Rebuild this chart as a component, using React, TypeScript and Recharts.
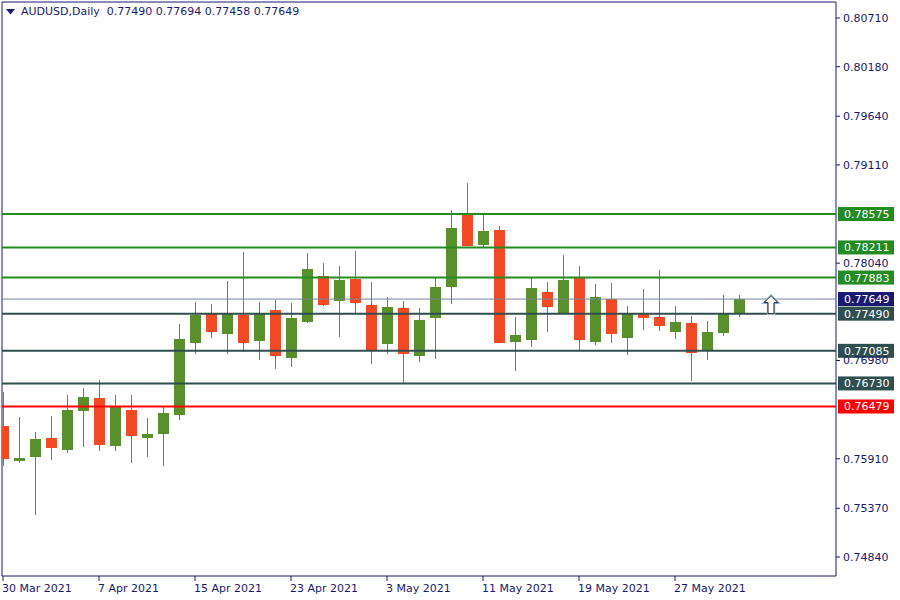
import React from "react";
import {
  ComposedChart,
  Bar,
  XAxis,
  YAxis,
  ReferenceLine,
  ReferenceArea,
  ReferenceDot,
} from "recharts";

// trading days shown on the chart (all 2021)
const dates = [
  "30 Mar", "31 Mar", "1 Apr", "2 Apr", "5 Apr", "6 Apr", "7 Apr", "8 Apr", "9 Apr", "12 Apr",
  "13 Apr", "14 Apr", "15 Apr", "16 Apr", "19 Apr", "20 Apr", "21 Apr", "22 Apr", "23 Apr", "26 Apr",
  "27 Apr", "28 Apr", "29 Apr", "30 Apr", "3 May", "4 May", "5 May", "6 May", "7 May", "10 May",
  "11 May", "12 May", "13 May", "14 May", "17 May", "18 May", "19 May", "20 May", "21 May", "24 May",
  "25 May", "26 May", "27 May", "28 May", "31 May", "1 Jun", "2 Jun",
];

const opens = [
  0.76267, 0.75889, 0.75933, 0.76136, 0.76009, 0.76434, 0.76572, 0.76052, 0.76441, 0.76139,
  0.76183, 0.7639, 0.77174, 0.7749, 0.77272, 0.77476, 0.77196, 0.7753, 0.77011, 0.77403,
  0.779, 0.77631, 0.77868, 0.77585, 0.77163, 0.77552, 0.77032, 0.77446, 0.77784, 0.78579,
  0.78241, 0.78401, 0.77185, 0.77207, 0.77726, 0.77501, 0.77879, 0.77185, 0.7765, 0.77228,
  0.77497, 0.77454, 0.77294, 0.77389, 0.77087, 0.77283, 0.7749,
];
const highs = [
  0.7664, 0.76365, 0.76202, 0.76376, 0.76604, 0.76681, 0.76768, 0.76604, 0.76604, 0.76354,
  0.76485, 0.77378, 0.77617, 0.77595, 0.77846, 0.78162, 0.77617, 0.77639, 0.77606, 0.78151,
  0.78042, 0.78009, 0.78173, 0.77835, 0.77672, 0.77628, 0.77552, 0.77879, 0.78619, 0.78913,
  0.78579, 0.78445, 0.77454, 0.77879, 0.77835, 0.78129, 0.78009, 0.77813, 0.77824, 0.77574,
  0.77759, 0.77966, 0.77574, 0.77465, 0.7741, 0.77694, 0.77694,
];
const lows = [
  0.75835, 0.75867, 0.75301, 0.759, 0.75976, 0.76041, 0.75998, 0.75998, 0.75867, 0.75933,
  0.75835, 0.76336, 0.77054, 0.77228, 0.77054, 0.77076, 0.76989, 0.76891, 0.76913, 0.77392,
  0.77574, 0.77239, 0.7749, 0.76945, 0.77054, 0.76738, 0.76967, 0.77, 0.77599, 0.78227,
  0.78209, 0.77171, 0.76869, 0.7713, 0.77294, 0.77497, 0.77098, 0.77152, 0.77174, 0.77043,
  0.77316, 0.77305, 0.77218, 0.7676, 0.76989, 0.7725, 0.77458,
];
const closes = [
  0.75911, 0.75918, 0.76125, 0.76031, 0.76441, 0.76583, 0.76063, 0.76474, 0.76161, 0.7618,
  0.76408, 0.77214, 0.77479, 0.77294, 0.77497, 0.77174, 0.77497, 0.77032, 0.77443, 0.77977,
  0.77588, 0.77857, 0.7761, 0.77087, 0.77563, 0.77054, 0.77421, 0.77781, 0.78423, 0.7823,
  0.7839, 0.77174, 0.77258, 0.7777, 0.77566, 0.77857, 0.77207, 0.77672, 0.77272, 0.77497,
  0.77446, 0.77359, 0.77399, 0.77065, 0.77291, 0.77487, 0.77649,
];

const levels = [0.78575, 0.78211, 0.77883, 0.7749, 0.77085, 0.7673, 0.76479];
const levelColors = ["#228B22", "#228B22", "#228B22", "#2F4F4F", "#2F4F4F", "#2F4F4F", "#FF0000"];
const bidPrice = 0.77649;
const priceTicks = [0.8071, 0.8018, 0.7964, 0.7911, 0.7804, 0.7698, 0.7591, 0.7537, 0.7484];
const dateTicks = [0, 6, 12, 18, 24, 30, 36, 42];
const arrowSlot = 48;
const arrowPrice = 0.7749;

const X_MIN = -0.0625;
const X_MAX = 52.0625;
const Y_MIN = 0.74633;
const Y_MAX = 0.80884;

const INK = "#191970";
const UP = "#5A8F2E";
const DOWN = "#F24A24";
const FONT = "'DejaVu Sans', sans-serif";

const data = dates.map((d, i) => ({
  i,
  date: d,
  open: opens[i],
  high: highs[i],
  low: lows[i],
  close: closes[i],
}));

const Candle = (props: any) => {
  const { x, y, width, height, payload } = props;
  if (!payload) return null;
  const { open, close, high, low } = payload;
  const color = close >= open ? UP : DOWN;
  const top = Math.min(y, y + height);
  const h = Math.abs(height);
  const cx = Math.round(x + width / 2) + 0.5;
  const py = (p: number) => top + ((high - p) / (high - low)) * h;
  const bTop = py(Math.max(open, close));
  const bBot = py(Math.min(open, close));
  return (
    <g shapeRendering="crispEdges">
      <line x1={cx} x2={cx} y1={top} y2={top + h} stroke={color} strokeWidth={1} />
      <rect x={cx - 5.5} y={bTop} width={11} height={Math.max(1, bBot - bTop)} fill={color} />
    </g>
  );
};

const LevelTag = (props: any) => {
  const { viewBox, value, bg } = props;
  if (!viewBox) return null;
  const x = viewBox.x + viewBox.width + 2;
  const y = viewBox.y;
  return (
    <g>
      <rect x={x} y={y - 7} width={56} height={14} fill={bg} />
      <text x={x + 6} y={y} dy="0.36em" fill="#fff" fontSize={11} fontFamily={FONT}>
        {value.toFixed(5)}
      </text>
    </g>
  );
};

const PriceTick = ({ x, y, payload }: any) => (
  <text x={x} y={y} dy="0.36em" textAnchor="start" fill={INK} fontSize={11} fontFamily={FONT}>
    {payload.value.toFixed(5)}
  </text>
);

const DateTick = ({ x, y, payload }: any) => (
  <text x={x - 1} y={y} dy="0.75em" textAnchor="start" fill={INK} fontSize={11} fontFamily={FONT}>
    {`${dates[payload.value]} 2021`}
  </text>
);

const BuyArrow = ({ cx, cy }: any) => {
  if (cx == null) return null;
  const p = `M${cx} ${cy - 18} L${cx + 7} ${cy - 11} L${cx + 3} ${cy - 11} L${cx + 3} ${cy} L${cx - 3} ${cy} L${cx - 3} ${cy - 11} L${cx - 7} ${cy - 11} Z`;
  return (
    <g>
      <path d={p} fill="#fff" stroke="#8fc8f0" strokeWidth={2.5} strokeLinejoin="miter" />
      <path d={p} fill="#fff" stroke="#3a1a10" strokeWidth={1} />
    </g>
  );
};

export default function App() {
  return (
    <div style={{ position: "absolute", left: 0, top: 0, width: 900, height: 600, background: "#fff" }}>
      <ComposedChart width={900} height={600} data={data} margin={{ top: 2, right: 0, left: 2, bottom: 0 }}>
        <XAxis
          dataKey="i"
          type="number"
          domain={[X_MIN, X_MAX]}
          allowDataOverflow
          ticks={dateTicks}
          tick={<DateTick />}
          tickSize={5}
          tickMargin={3}
          tickLine={{ stroke: INK }}
          axisLine={false}
          height={24}
          interval={0}
        />
        <YAxis
          orientation="right"
          type="number"
          domain={[Y_MIN, Y_MAX]}
          allowDataOverflow
          ticks={priceTicks}
          tick={<PriceTick />}
          tickSize={4}
          tickMargin={3}
          tickLine={{ stroke: INK }}
          axisLine={false}
          width={64}
          interval={0}
        />
        <ReferenceArea x1={X_MIN} x2={X_MAX} y1={Y_MIN} y2={Y_MAX} fill="none" stroke={INK} strokeWidth={1} />
        <ReferenceLine
          y={bidPrice}
          stroke="#778899"
          strokeWidth={1}
          label={(p: any) => <LevelTag {...p} value={bidPrice} bg={INK} />}
        />
        {levels.map((lv, k) => (
          <ReferenceLine
            key={lv}
            y={lv}
            stroke={levelColors[k]}
            strokeWidth={2}
            label={(p: any) => <LevelTag {...p} value={lv} bg={levelColors[k]} />}
          />
        ))}
        <Bar
          dataKey={(d: any) => [d.low, d.high]}
          barSize={11}
          shape={<Candle />}
          isAnimationActive={false}
        />
        <ReferenceDot x={arrowSlot} y={arrowPrice} shape={<BuyArrow />} />
      </ComposedChart>
      <div
        style={{
          position: "absolute",
          left: 6,
          top: 5,
          fontFamily: FONT,
          fontSize: 11,
          lineHeight: "14px",
          color: INK,
          whiteSpace: "pre",
          display: "flex",
          alignItems: "center",
        }}
      >
        <svg width={9} height={6} style={{ marginRight: 6 }}>
          <polygon points="0,0 9,0 4.5,5.5" fill={INK} />
        </svg>
        {"AUDUSD,Daily  0.77490 0.77694 0.77458 0.77649"}
      </div>
    </div>
  );
}
